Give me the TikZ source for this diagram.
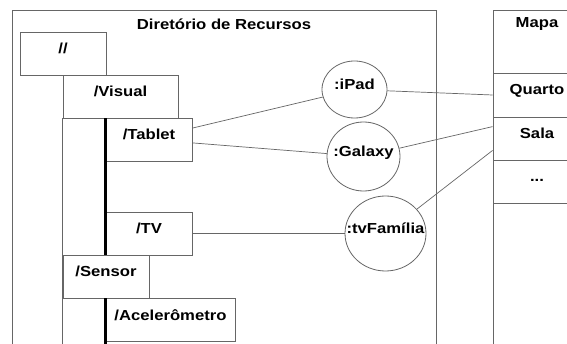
\documentclass[tikz,border=0pt]{standalone}
\usepackage{fontspec}
\setmainfont[FakeStretch=1.15]{Liberation Sans}
\usetikzlibrary{shapes.geometric}
\usetikzlibrary{calc}

\tikzset{
  caixa/.style={draw=gray!80!black, line width=0.8pt, rectangle, inner sep=0pt,
    text height=21.5pt, text depth=21.5pt},
  objeto/.style={draw=gray!80!black, line width=0.8pt, ellipse, inner sep=0pt,
    text height=0pt, text depth=0pt},
  liga/.style={draw=gray!80!black, line width=0.7pt},
  moldura/.style={draw=gray!80!black, line width=0.8pt},
  tronco/.style={draw=black, line width=2.4pt},
}
\newcommand{\rotulo}[1]{\makebox[0pt]{#1}}

\begin{document}
\begin{tikzpicture}[x=1pt,y=-1pt,font=\fontsize{14.5}{17}\selectfont\bfseries]
        \clip (0,0) rectangle (567,344);
        \fill[white] (0,0) rectangle (567,344);
        \coordinate (fundo) at (0,350);

        % diretorio de recursos
        \draw[moldura] (12,350) -- (12,10) -- (436,10) -- (436,350);
        \node[anchor=base] (titulo) at (224,30) {Diretório de Recursos};

        \node[caixa, minimum width=86pt] (raiz) at (63,53.5) {//};
        \node[caixa, minimum width=115pt] (visual) at (120.5,96.5) {/Visual};
        \node[caixa, minimum width=86pt] (tablet) at (149,140) {/Tablet};
        \node[caixa, minimum width=86pt] (tv) at (149,233.5) {/TV};
        \node[caixa, minimum width=86pt] (sensor) at (106,276.5) {/Sensor};
        \node[caixa, minimum width=129pt] (acel) at (170.5,320) {/Acelerômetro};

        \draw[moldura] (visual.south west) -- (visual.south west |- fundo);
        \draw[tronco] (tablet.north west) -- (tv.south west);
        \draw[tronco] (acel.north west) -- (acel.north west |- fundo);

        % objetos
        \node[objeto, minimum width=65pt, minimum height=57pt] (ipad) at (354.5,89.5) {\rotulo{:iPad}};
        \node[objeto, minimum width=73pt, minimum height=69pt] (galaxy) at (363.5,156.5) {\rotulo{:Galaxy}};
        \node[objeto, minimum width=81pt, minimum height=75pt] (tvfam) at (385.5,233.5) {\rotulo{:tvFamília}};

        % mapa
        \draw[moldura] (493,350) -- (493,10) -- (581,10) -- (581,350);
        \node[anchor=base] (titmapa) at (537,28) {Mapa};
        \node[caixa, minimum width=88pt, minimum height=44pt] (quarto) at (537,95) {Quarto};
        \node[caixa, minimum width=88pt] (sala) at (537,138.5) {Sala};
        \node[caixa, minimum width=88pt] (mais) at (537,181.5) {...};

        % ligacoes
        \draw[liga] ($(tablet.north east)+(0,10)$) -- (ipad);
        \draw[liga] ($(tablet.south east)+(0,-19)$) -- (galaxy);
        \draw[liga] (tv.east) -- (tvfam.west);
        \draw[liga] (ipad) -- (quarto.west);
        \draw[liga] (galaxy) -- ($(sala.north west)+(0,10)$);
        \draw[liga] (tvfam) -- ($(sala.south west)+(0,-10)$);
\end{tikzpicture}
\end{document}
